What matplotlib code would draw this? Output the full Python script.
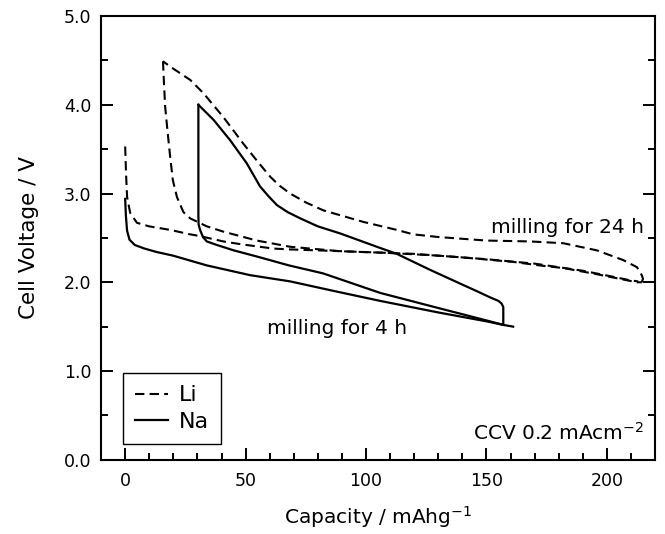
import numpy as np
import matplotlib
matplotlib.use('Agg')
import matplotlib.pyplot as plt
from matplotlib.ticker import MultipleLocator, FormatStrFormatter

# Li cell, milling for 24 h (dashed)
li_dis1_cap = [0, 0.4, 0.8, 2.1, 4.9, 10, 18.7, 27.0, 31.1, 40.8, 47.7, 61.4, 68.5, 90, 110, 120, 140, 161, 172, 182, 196, 207, 212.5, 214.5]
li_dis1_v = [3.53, 3.2, 2.96, 2.78, 2.67, 2.63, 2.59, 2.54, 2.52, 2.46, 2.43, 2.38, 2.37, 2.35, 2.33, 2.32, 2.28, 2.23, 2.19, 2.16, 2.09, 2.03, 2.00, 2.00]

li_chg_cap = [214.5, 215, 214.5, 212.5, 206.8, 195.8, 181.9, 168.2, 150, 130, 119.6, 112.8, 98.9, 82.3, 75, 68.5, 64, 60.2, 55, 49.1, 40.8, 32.5, 27.0, 18.7, 15.7]
li_chg_v = [2.00, 2.04, 2.08, 2.17, 2.25, 2.36, 2.44, 2.46, 2.47, 2.51, 2.54, 2.59, 2.68, 2.81, 2.90, 3.00, 3.09, 3.19, 3.36, 3.56, 3.86, 4.13, 4.28, 4.43, 4.49]

li_dis2_cap = [15.7, 16.1, 16.6, 17.6, 18.7, 19.8, 21.5, 24.2, 27.0, 33.9, 40.8, 54.7, 68.5, 89.3, 110, 130, 150, 170, 190, 203, 210, 213]
li_dis2_v = [4.49, 4.25, 3.98, 3.70, 3.41, 3.15, 2.96, 2.79, 2.72, 2.63, 2.57, 2.47, 2.40, 2.35, 2.33, 2.30, 2.26, 2.21, 2.13, 2.06, 2.02, 2.01]

# Na cell, milling for 4 h (solid)
na_dis1_cap = [0, 0.3, 0.8, 1.8, 4, 8, 13.2, 19.9, 33.9, 51.9, 68.5, 87, 105.9, 130, 150, 157, 161.1]
na_dis1_v = [2.94, 2.75, 2.58, 2.48, 2.42, 2.38, 2.34, 2.30, 2.19, 2.08, 2.01, 1.90, 1.79, 1.66, 1.56, 1.52, 1.50]

na_chg_cap = [157, 157, 156.3, 155, 151.5, 146, 140.3, 126.6, 112.8, 104.5, 89.3, 80, 72.7, 67.5, 63.0, 59.5, 56.0, 50.5, 43.6, 36.7, 33, 30.4]
na_chg_v = [1.52, 1.72, 1.76, 1.79, 1.83, 1.90, 1.97, 2.14, 2.32, 2.40, 2.55, 2.63, 2.72, 2.79, 2.87, 2.97, 3.08, 3.34, 3.60, 3.83, 3.93, 4.0]

na_dis2_cap = [30.4, 30.4, 30.5, 31.1, 32.3, 33.9, 38.1, 45, 54.7, 68, 82.2, 105.9, 130, 150, 157]
na_dis2_v = [4.0, 2.75, 2.65, 2.59, 2.51, 2.46, 2.42, 2.36, 2.29, 2.19, 2.10, 1.88, 1.71, 1.57, 1.52]

dash = (4.5, 2.5)

fig = plt.figure(figsize=(6.65, 5.34), dpi=100)
ax = fig.add_axes([0.152, 0.139, 0.833, 0.831])

ax.plot(li_dis1_cap, li_dis1_v, 'k--', lw=1.5, dashes=dash, label='Li')
ax.plot(li_chg_cap, li_chg_v, 'k--', lw=1.5, dashes=dash)
ax.plot(li_dis2_cap, li_dis2_v, 'k--', lw=1.5, dashes=dash)

ax.plot(na_dis1_cap, na_dis1_v, 'k-', lw=1.6, label='Na')
ax.plot(na_chg_cap, na_chg_v, 'k-', lw=1.6)
ax.plot(na_dis2_cap, na_dis2_v, 'k-', lw=1.6)

ax.set_xlim(-10, 220)
ax.set_ylim(0, 5)

ax.xaxis.set_major_locator(MultipleLocator(50))
ax.xaxis.set_minor_locator(MultipleLocator(10))
ax.yaxis.set_major_locator(MultipleLocator(1.0))
ax.yaxis.set_minor_locator(MultipleLocator(0.5))
ax.yaxis.set_major_formatter(FormatStrFormatter('%.1f'))

ax.tick_params(which='both', direction='in', top=False, right=True, width=1.4)
ax.tick_params(which='major', length=8.5, labelsize=12.5)
ax.tick_params(which='minor', length=5)
ax.tick_params(axis='y', pad=7)
ax.tick_params(axis='x', pad=9)

for s in ax.spines.values():
    s.set_linewidth(1.5)

ax.set_xlabel('Capacity / mAhg$^{-1}$', fontsize=14.5, labelpad=10)
ax.set_ylabel('Cell Voltage / V', fontsize=15.5, labelpad=18)

ax.text(152.1, 2.55, 'milling for 24 h', fontsize=14.5, ha='left', va='baseline')
ax.text(58.8, 1.42, 'milling for 4 h', fontsize=14.5, ha='left', va='baseline')
ax.text(215.5, 0.22, 'CCV 0.2 mAcm$^{-2}$', fontsize=14.5, ha='right', va='baseline')

leg = ax.legend(loc='lower left', bbox_to_anchor=(0.04, 0.035), borderaxespad=0,
                fontsize=16, handlelength=1.45, handletextpad=0.5,
                labelspacing=0.3, borderpad=0.55, fancybox=False,
                framealpha=1, edgecolor='k')
leg.get_frame().set_linewidth(1.0)

fig.savefig('out.png', dpi=100)
